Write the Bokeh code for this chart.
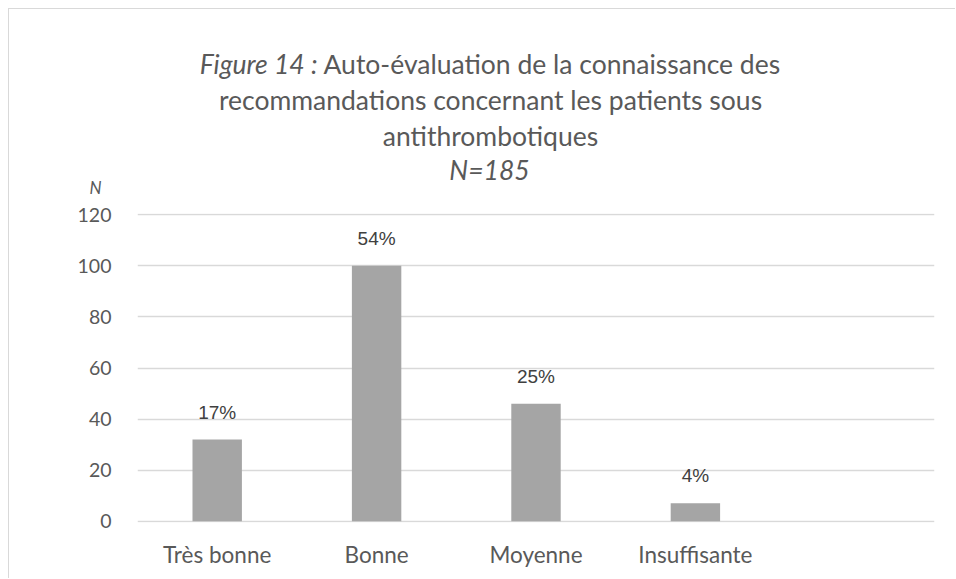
from bokeh.plotting import figure
from bokeh.models import ColumnDataSource, FactorRange, Range1d, LabelSet, FixedTicker
from bokeh.core.properties import value
from bokeh.embed import file_html
from bokeh.resources import INLINE

# ---- data ----
categories = ["Très bonne", "Bonne", "Moyenne", "Insuffisante"]
counts = [32, 100, 46, 7]
pct_labels = ["17%", "54%", "25%", "4%"]
y_ticks = [0, 20, 40, 60, 80, 100, 120]
title_italic = "Figure 14 :"
title_line1 = "Auto-évaluation de la connaissance des"
title_line2 = "recommandations concernant les patients sous"
title_line3 = "antithrombotiques"
title_line4 = "N=185"
y_label = "N"

FONT = "Lato"
GREY_TXT = "#595959"

W = 947
HT, HB = 190, 380

# ---------- title strip ----------
t = figure(width=W, height=HT, x_range=Range1d(0, W), y_range=Range1d(0, HT),
           x_axis_type=None, y_axis_type=None, output_backend="svg",
           toolbar_location=None, min_border=0)
t.outline_line_color = None
t.xgrid.grid_line_color = None
t.ygrid.grid_line_color = None
t.styles = {"margin-left": "8px", "margin-top": "8px",
            "border-left": "1px solid #d9d9d9", "border-top": "1px solid #d9d9d9"}

ORG = 9
def tx(px):
    return px - ORG
def ty(py):
    return ORG + HT - py

TS = "26.5px"
t.text(x=[tx(317)], y=[ty(63)], text=[title_italic], text_align="right",
       text_baseline="alphabetic", text_font=value(FONT), text_font_style="italic",
       text_font_size=TS, text_color=GREY_TXT)
t.text(x=[tx(323)], y=[ty(63)], text=[title_line1], text_align="left",
       text_baseline="alphabetic", text_font=value(FONT), text_font_size=TS,
       text_color=GREY_TXT)
t.text(x=[tx(490)] * 2, y=[ty(99), ty(135)], text=[title_line2, title_line3],
       text_align="center", text_baseline="alphabetic", text_font=value(FONT),
       text_font_size=TS, text_color=GREY_TXT)
t.text(x=[tx(489)], y=[ty(169)], text=[title_line4], text_align="center",
       text_baseline="alphabetic", text_font=value(FONT), text_font_style="italic",
       text_font_size=TS, text_color=GREY_TXT)
t.text(x=[tx(95)], y=[ty(187)], text=[y_label], text_align="center",
       text_baseline="alphabetic", text_font=value(FONT), text_font_style="italic",
       text_font_size="17px", text_color=GREY_TXT)

# ---------- chart ----------
src = ColumnDataSource(dict(cat=categories, n=counts, pct=pct_labels))

p = figure(
    width=W, height=HB,
    x_range=FactorRange(factors=categories + [" "]),
    y_range=Range1d(-0.5, 120.5),
    output_backend="svg", toolbar_location=None,
    min_border_left=128, min_border_right=22,
    min_border_top=15, min_border_bottom=56,
)
p.styles = {"margin-left": "8px", "border-left": "1px solid #d9d9d9"}
p.outline_line_color = None
p.background_fill_color = "white"
p.border_fill_color = "white"

p.vbar(x="cat", top="n", width=0.31, source=src, color="#a5a5a5", line_color=None)

p.xgrid.grid_line_color = None
p.ygrid.grid_line_color = "#d9d9d9"
p.ygrid.grid_line_width = 1.5
p.yaxis.ticker = FixedTicker(ticks=y_ticks)

for ax in (p.xaxis, p.yaxis):
    ax.axis_line_color = None
    ax.major_tick_line_color = None
    ax.minor_tick_line_color = None
    ax.major_label_text_font = FONT
    ax.major_label_text_color = GREY_TXT
p.yaxis.major_label_text_font_size = "19.5px"
p.yaxis.major_label_standoff = 20
p.xaxis.major_label_text_font_size = "22.5px"
p.xaxis.major_label_standoff = 12

labels = LabelSet(x="cat", y="n", text="pct", source=src, y_offset=21,
                  text_align="center", text_baseline="alphabetic",
                  text_font=value("Liberation Sans"), text_font_size=value("19px"),
                  text_color=value("#404040"))
p.add_layout(labels)

open("out.html", "w").write(file_html([t, p], INLINE))
